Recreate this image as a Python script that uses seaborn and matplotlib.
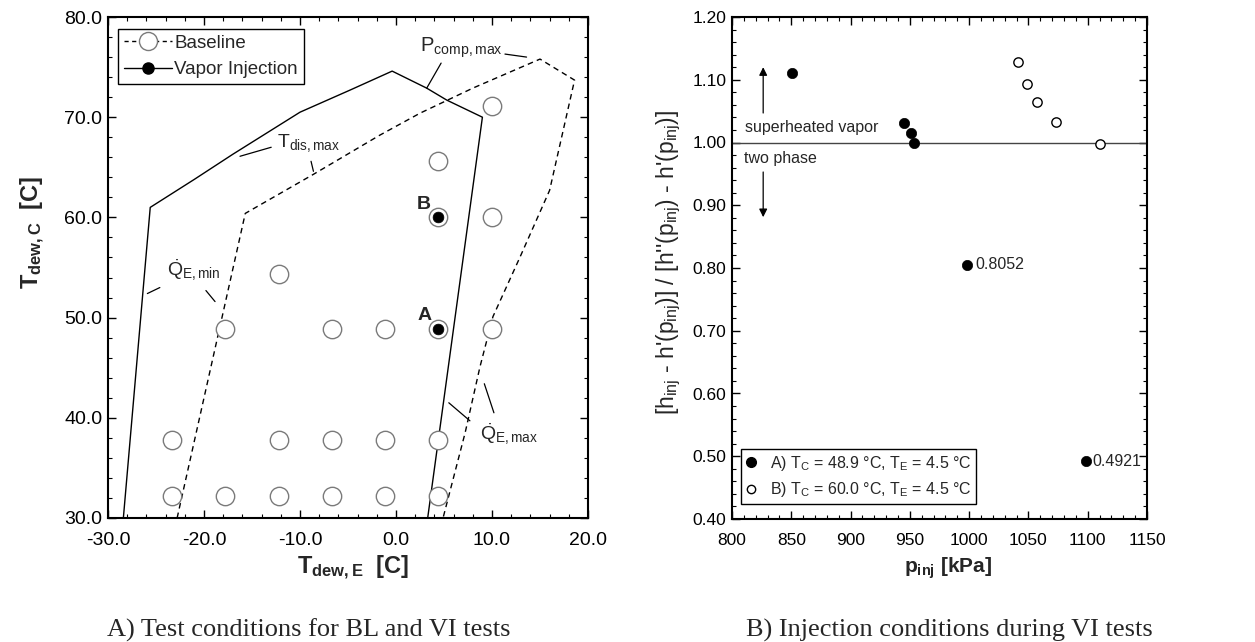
import matplotlib
matplotlib.use("Agg")
import matplotlib.pyplot as plt
from matplotlib.lines import Line2D
from matplotlib.ticker import MultipleLocator, FormatStrFormatter
import pandas as pd
import seaborn as sns

# ---------------- data: left panel (test matrix) ----------------
bl_te = [-23.3, -17.8, -12.2, -6.7, -1.1, 4.4,
         -23.3, -12.2, -6.7, -1.1, 4.4,
         -17.8, -6.7, -1.1, 4.4, 10.0,
         -12.2, 4.4, 10.0, 4.4, 10.0]
bl_tc = [32.2, 32.2, 32.2, 32.2, 32.2, 32.2,
         37.8, 37.8, 37.8, 37.8, 37.8,
         48.9, 48.9, 48.9, 48.9, 48.9,
         54.4, 60.0, 60.0, 65.6, 71.1]
vi_te = [4.4, 4.4]
vi_tc = [48.9, 60.0]
vi_names = ["A", "B"]

# operating envelopes
vi_env_x = [-28.4, -25.6, -21.0, -17.0, -10.0, -4.8, -0.4, 3.2, 5.3, 9.0, 3.3]
vi_env_y = [30.0, 61.0, 63.8, 66.3, 70.5, 72.7, 74.6, 72.9, 71.7, 70.0, 30.0]
bl_env_x = [-22.8, -15.7, -8.6, -1.7, 2.5, 8.0, 15.0, 18.6, 16.0, 12.9, 10.1, 8.75, 7.2, 4.9]
bl_env_y = [30.0, 60.4, 64.3, 68.2, 70.4, 72.9, 75.8, 73.7, 62.7, 56.0, 50.1, 45.1, 38.5, 30.0]

# ---------------- data: right panel (injection quality) ----------------
pA = [850.9, 944.7, 951.2, 953.7, 997.8, 1098.2]
qA = [1.110, 1.031, 1.015, 1.000, 0.8052, 0.4921]
pB = [1041.5, 1048.5, 1056.9, 1072.9, 1110.3]
qB = [1.129, 1.094, 1.064, 1.033, 0.998]
labA = "A) T$_{\\mathrm{C}}$ = 48.9 °C, T$_{\\mathrm{E}}$ = 4.5 °C"
labB = "B) T$_{\\mathrm{C}}$ = 60.0 °C, T$_{\\mathrm{E}}$ = 4.5 °C"

# ---------------- style ----------------
sns.set_theme(style="ticks")
plt.rcParams["font.family"] = ["Liberation Sans", "DejaVu Sans"]
plt.rcParams["mathtext.fontset"] = "custom"
plt.rcParams["mathtext.rm"] = "Liberation Sans"
plt.rcParams["mathtext.it"] = "Liberation Sans:italic"
plt.rcParams["mathtext.bf"] = "Liberation Sans:bold"
plt.rcParams["axes.linewidth"] = 1.5
plt.rcParams["axes.edgecolor"] = "black"

fig = plt.figure(figsize=(12.55, 6.42), dpi=100)
ax1 = fig.add_axes([108 / 1255, 1 - 518 / 642, 480 / 1255, 501 / 642])
ax2 = fig.add_axes([732 / 1255, 1 - 519 / 642, 415 / 1255, 502 / 642])

# ================= left panel =================
env_vi = pd.DataFrame({"x": vi_env_x, "y": vi_env_y})
env_bl = pd.DataFrame({"x": bl_env_x, "y": bl_env_y})
sns.lineplot(data=env_vi, x="x", y="y", sort=False, estimator=None, ax=ax1,
             color="black", lw=1.0, zorder=2)
sns.lineplot(data=env_bl, x="x", y="y", sort=False, estimator=None, ax=ax1,
             color="black", lw=1.0, linestyle=(0, (4, 3)), zorder=2)

bl_df = pd.DataFrame({"te": bl_te, "tc": bl_tc})
sns.scatterplot(data=bl_df, x="te", y="tc", ax=ax1, s=175, color="white",
                edgecolor="#7a7a7a", linewidth=1.0, zorder=3)
vi_df = pd.DataFrame({"te": vi_te, "tc": vi_tc})
sns.scatterplot(data=vi_df, x="te", y="tc", ax=ax1, s=60, color="black",
                edgecolor="black", linewidth=0.5, zorder=4)
for name, x, y in zip(vi_names, vi_te, vi_tc):
    ax1.text(x - 2.2, y + 0.85, name, fontsize=14, fontweight="bold",
             ha="left", va="baseline")

# leader lines and envelope labels
leaders = [((-16.25, 66.1), (-13.0, 67.0)),
           ((-8.85, 65.6), (-8.6, 64.6)),
           ((-25.9, 52.4), (-24.6, 53.0)),
           ((-19.8, 52.7), (-18.85, 51.6)),
           ((11.35, 76.3), (13.6, 76.0)),
           ((4.7, 75.4), (3.2, 72.9)),
           ((5.5, 41.5), (7.7, 39.7)),
           ((9.2, 43.4), (10.2, 40.5))]
for (xa, ya), (xb, yb) in leaders:
    ax1.plot([xa, xb], [ya, yb], color="black", lw=0.9)
ax1.text(-12.4, 67.0, r"T$_{\mathrm{dis,max}}$", fontsize=14, ha="left", va="baseline")
ax1.text(-23.85, 54.15, r"$\dot{\mathrm{Q}}_{\mathrm{E,min}}$", fontsize=14, ha="left", va="baseline")
ax1.text(2.5, 76.5, r"P$_{\mathrm{comp,max}}$", fontsize=14.5, ha="left", va="baseline")
ax1.text(8.75, 37.8, r"$\dot{\mathrm{Q}}_{\mathrm{E,max}}$", fontsize=14, ha="left", va="baseline")

ax1.set_xlim(-30, 20)
ax1.set_ylim(30, 80)
ax1.xaxis.set_major_locator(MultipleLocator(10))
ax1.xaxis.set_minor_locator(MultipleLocator(2))
ax1.yaxis.set_major_locator(MultipleLocator(10))
ax1.yaxis.set_minor_locator(MultipleLocator(2))
ax1.xaxis.set_major_formatter(FormatStrFormatter("%.1f"))
ax1.yaxis.set_major_formatter(FormatStrFormatter("%.1f"))
ax1.set_xlabel(r"$\mathbf{T_{dew,E}}$  [C]", fontsize=17, fontweight="bold")
ax1.set_ylabel(r"$\mathbf{T_{dew,C}}$  [C]", fontsize=17, fontweight="bold")
ax1.xaxis.set_label_coords(0.51, -0.072)
ax1.yaxis.set_label_coords(-0.128, 0.571)

h_bl = Line2D([], [], color="black", lw=1.0, linestyle=(0, (3, 2.5)), marker="o",
              markersize=13, markerfacecolor="white", markeredgecolor="#7a7a7a")
h_vi = Line2D([], [], color="black", lw=1.0, marker="o", markersize=8,
              markerfacecolor="black", markeredgecolor="black")
leg1 = ax1.legend([h_bl, h_vi], ["Baseline", "Vapor Injection"], loc="upper left",
                  bbox_to_anchor=(0.021, 0.976), borderaxespad=0, fontsize=13.5,
                  frameon=True, fancybox=False, edgecolor="black", framealpha=1,
                  handlelength=2.6, handletextpad=0.1, borderpad=0.3, labelspacing=0.5)
leg1.get_frame().set_linewidth(1.0)

# ================= right panel =================
ax2.axhline(1.0, color="#444444", lw=1.0, zorder=1)
dfA = pd.DataFrame({"p": pA, "q": qA})
dfB = pd.DataFrame({"p": pB, "q": qB})
sns.scatterplot(data=dfA, x="p", y="q", ax=ax2, s=55, color="black",
                edgecolor="black", linewidth=0.5, zorder=3)
sns.scatterplot(data=dfB, x="p", y="q", ax=ax2, s=45, color="white",
                edgecolor="black", linewidth=1.0, zorder=3)
ax2.text(pA[4] + 7.5, qA[4], f"{qA[4]:.4f}", fontsize=11.5, ha="left", va="center")
ax2.text(pA[5] + 5.5, qA[5], f"{qA[5]:.4f}", fontsize=11.5, ha="left", va="center")

ax2.text(811, 1.016, "superheated vapor", fontsize=11.5, ha="left", va="baseline")
ax2.text(810.5, 0.968, "two phase", fontsize=11.5, ha="left", va="baseline")
ax2.annotate("", xy=(826.3, 1.12), xytext=(826.3, 1.047),
             arrowprops=dict(arrowstyle="-|>", color="black", lw=0.9,
                             mutation_scale=12, shrinkA=0, shrinkB=0))
ax2.annotate("", xy=(826.3, 0.881), xytext=(826.3, 0.953),
             arrowprops=dict(arrowstyle="-|>", color="black", lw=0.9,
                             mutation_scale=12, shrinkA=0, shrinkB=0))

ax2.set_xlim(800, 1150)
ax2.set_ylim(0.40, 1.20)
ax2.xaxis.set_major_locator(MultipleLocator(50))
ax2.xaxis.set_minor_locator(MultipleLocator(10))
ax2.yaxis.set_major_locator(MultipleLocator(0.1))
ax2.yaxis.set_minor_locator(MultipleLocator(0.02))
ax2.yaxis.set_major_formatter(FormatStrFormatter("%.2f"))
ax2.set_xlabel(r"$\mathbf{p_{inj}}$ [kPa]", fontsize=15, fontweight="bold")
ax2.set_ylabel("[h$_{\\mathrm{inj}}$ - h'(p$_{\\mathrm{inj}}$)] / "
               "[h''(p$_{\\mathrm{inj}}$) - h'(p$_{\\mathrm{inj}}$)]", fontsize=16.5)
ax2.xaxis.set_label_coords(0.52, -0.072)
ax2.yaxis.set_label_coords(-0.118, 0.512)

hA = Line2D([], [], lw=0, marker="o", markersize=7, markerfacecolor="black",
            markeredgecolor="black")
hB = Line2D([], [], lw=0, marker="o", markersize=6, markerfacecolor="white",
            markeredgecolor="black")
leg2 = ax2.legend([hA, hB], [labA, labB], loc="lower left",
                  bbox_to_anchor=(0.0217, 0.030), borderaxespad=0, fontsize=11.5,
                  frameon=True, fancybox=False, edgecolor="black", framealpha=1,
                  handlelength=0.6, handletextpad=0.9, borderpad=0.3, labelspacing=0.45)
leg2.get_frame().set_linewidth(1.0)

# ================= shared tick styling =================
for ax in (ax1, ax2):
    ax.tick_params(which="both", direction="in", top=True, right=True,
                   color="black", labelcolor="black")
    ax.tick_params(which="major", length=6, width=1.0, labelsize=14)
    ax.tick_params(which="minor", length=3, width=0.8)
    ax.tick_params(axis="x", which="major", pad=10)
    ax.tick_params(axis="y", which="major", pad=4)
    for sp in ax.spines.values():
        sp.set_visible(True)
        sp.set_linewidth(1.5)
ax2.tick_params(which="major", labelsize=12.5)

# ================= captions =================
fig.text(107 / 1255, 1 - 637 / 642, "A) Test conditions for BL and VI tests",
         fontsize=19, family="Liberation Serif", ha="left", va="baseline")
fig.text(746 / 1255, 1 - 637 / 642, "B) Injection conditions during VI tests",
         fontsize=19, family="Liberation Serif", ha="left", va="baseline")

fig.savefig("out.png", dpi=100, facecolor="white")
